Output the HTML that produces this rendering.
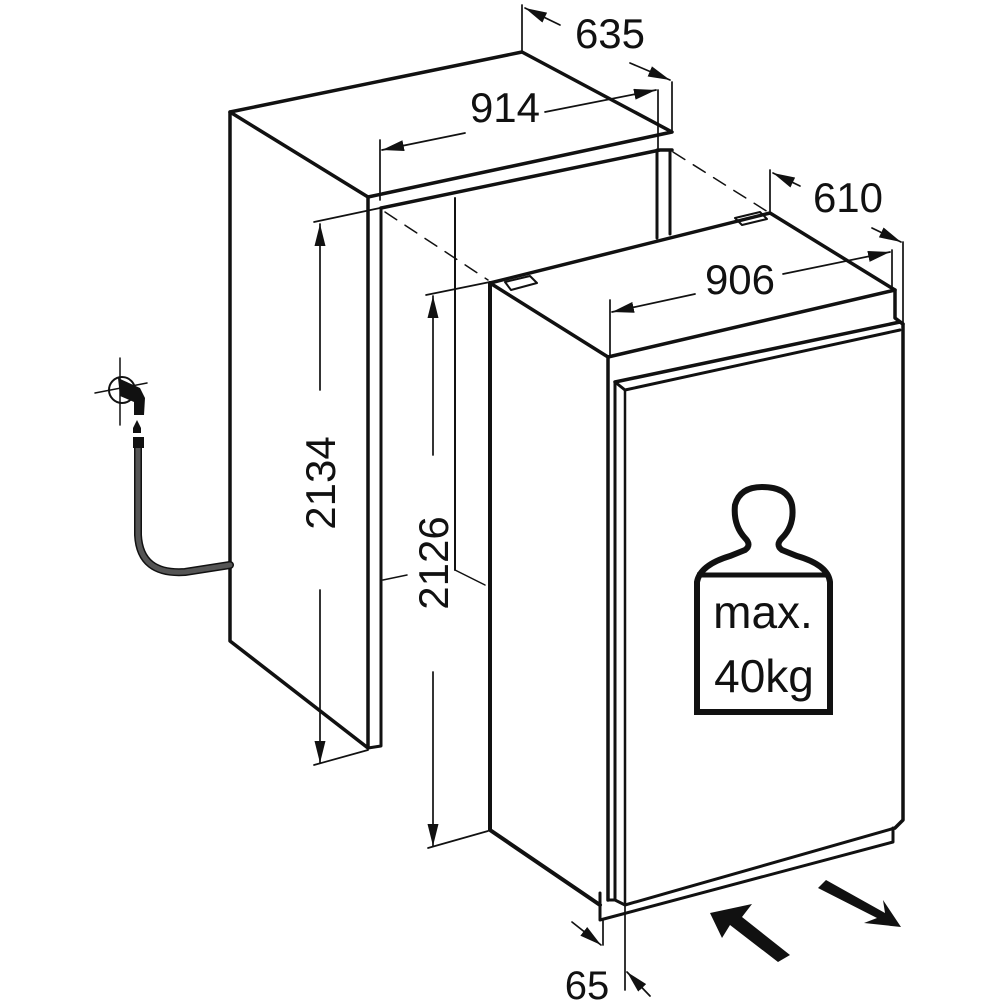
<!DOCTYPE html>
<html><head><meta charset="utf-8"><style>
html,body{margin:0;padding:0;background:#fff;}
svg{display:block;}
text{font-family:"Liberation Sans","DejaVu Sans",sans-serif;fill:#111;}
</style></head><body>
<svg width="1000" height="1000" viewBox="0 0 1000 1000" xmlns="http://www.w3.org/2000/svg">
<defs>
<marker id="ah" viewBox="0 0 20 10" refX="20" refY="5" markerWidth="22" markerHeight="11" markerUnits="userSpaceOnUse" orient="auto">
<path d="M0,0 L20,5 L0,10 Z" fill="#111"/>
</marker>
</defs>
<g stroke="#111" fill="none" stroke-linecap="round" stroke-linejoin="round">
<path d="M230,112 L522,52 L672,132 L368,197 Z" stroke-width="3.5"/>
<path d="M368,197 L368,748 L230,641 L230,112" stroke-width="3.5"/>
<path d="M381,208 L381,746 L368,748" stroke-width="3"/>
<path d="M381,208 L660,150 L672,150" stroke-width="3.5"/>
<line x1="657" y1="150" x2="657" y2="238" stroke-width="3"/>
<line x1="670" y1="150" x2="670" y2="234" stroke-width="3"/>
<line x1="455" y1="198" x2="455" y2="570" stroke-width="2"/>
<line x1="455" y1="570" x2="485" y2="585" stroke-width="1.5"/>
<line x1="383" y1="580" x2="407" y2="575" stroke-width="1.5"/>
<line x1="385" y1="212" x2="488" y2="280" stroke-width="1.5" stroke-dasharray="14,10"/>
<line x1="673" y1="152" x2="768" y2="212" stroke-width="1.5" stroke-dasharray="14,10"/>
<path d="M490,283 L770,213 L895,290 L608,357 Z" stroke-width="3.5"/>
<path d="M490,283 L490,830 L600,905" stroke-width="4"/>
<line x1="608" y1="357" x2="608" y2="900" stroke-width="3.5"/>
<path d="M895,290 L895,318 L903,324 L903,820 L895,828" stroke-width="3.5"/>
<path d="M615,382 L900,322 L903,324" stroke-width="3.5"/>
<path d="M615,382 L625,390 L900,330" stroke-width="3"/>
<line x1="615" y1="382" x2="615" y2="900" stroke-width="3"/>
<line x1="625" y1="390" x2="625" y2="905" stroke-width="2.5"/>
<path d="M608,900 L615,900 L625,905 L895,828" stroke-width="3"/>
<path d="M600,893 L600,920 L893,842 L893,828" stroke-width="3"/>
<path d="M505,282 L530,276 L537,283 L511,290 Z" stroke-width="2"/>
<path d="M735,218 L760,212 L767,219 L742,225 Z" stroke-width="2"/>
<g stroke-width="1.7">
<line x1="522" y1="5" x2="522" y2="52"/>
<line x1="672" y1="82" x2="672" y2="132"/>
<line x1="560" y1="25" x2="525" y2="8" marker-end="url(#ah)"/>
<line x1="630" y1="63" x2="670" y2="80" marker-end="url(#ah)"/>
<line x1="380" y1="140" x2="380" y2="200"/>
<line x1="658" y1="90" x2="658" y2="150"/>
<line x1="465" y1="133" x2="382" y2="150" marker-end="url(#ah)"/>
<line x1="545" y1="112" x2="656" y2="90" marker-end="url(#ah)"/>
<line x1="770" y1="170" x2="770" y2="213"/>
<line x1="903" y1="242" x2="903" y2="324"/>
<line x1="800" y1="186" x2="773" y2="173" marker-end="url(#ah)"/>
<line x1="872" y1="228" x2="901" y2="242" marker-end="url(#ah)"/>
<line x1="610" y1="300" x2="610" y2="357"/>
<line x1="892" y1="250" x2="892" y2="290"/>
<line x1="695" y1="294" x2="612" y2="312" marker-end="url(#ah)"/>
<line x1="783" y1="274" x2="890" y2="252" marker-end="url(#ah)"/>
<line x1="314" y1="222" x2="380" y2="208"/>
<line x1="314" y1="765" x2="368" y2="750"/>
<line x1="320" y1="390" x2="320" y2="224" marker-end="url(#ah)"/>
<line x1="320" y1="590" x2="320" y2="763" marker-end="url(#ah)"/>
<line x1="426" y1="295" x2="490" y2="282"/>
<line x1="428" y1="848" x2="488" y2="831"/>
<line x1="433" y1="455" x2="433" y2="296" marker-end="url(#ah)"/>
<line x1="433" y1="672" x2="433" y2="846" marker-end="url(#ah)"/>
<line x1="603" y1="920" x2="603" y2="945"/>
<line x1="625" y1="905" x2="625" y2="990"/>
<line x1="572" y1="922" x2="601" y2="945" marker-end="url(#ah)"/>
<line x1="650" y1="996" x2="627" y2="972" marker-end="url(#ah)"/>
</g>
<path d="M138,445 L138,535 Q140,575 185,572 L230,565" stroke="#111" stroke-width="8"/>
<path d="M138,445 L138,535 Q140,575 185,572 L230,565" stroke="#555" stroke-width="5"/>
<circle cx="122" cy="390" r="13" stroke-width="2"/>
<line x1="120" y1="358" x2="120" y2="425" stroke-width="1.5"/>
<line x1="95" y1="393" x2="147" y2="383" stroke-width="1.5"/>
</g>
<path d="M118,378 L140,388 L145,398 L144,415 L134,415 L134,402 L120,396 Z" fill="#111"/>
<path d="M137,420 L141,428 L141,433 L133,433 L133,428 Z" fill="#111"/>
<rect x="133" y="437" width="11" height="11" fill="#111"/>
<path d="M710,913 L752,904 L742,917 L790,955 L778,962 L730,925 L722,938 Z" fill="#111"/>
<path d="M818,888 L826,880 L885,913 L883,900 L901,927 L864,923 L877,918 Z" fill="#111"/>
<path d="M697,712 L697,582 Q700,565 730,556 L745,550 Q752,545 745,538 Q733,525 735,505 Q740,487 762,487 Q788,487 792,505 Q795,525 782,538 Q775,545 782,550 L797,556 Q828,565 830,582 L830,712 Z" fill="none" stroke="#111" stroke-width="6"/>
<line x1="697" y1="575" x2="830" y2="575" stroke="#111" stroke-width="5"/>
<text x="763" y="628" font-size="46" text-anchor="middle">max.</text>
<text x="764" y="692" font-size="46" text-anchor="middle">40kg</text>
<text x="610" y="48" font-size="42" text-anchor="middle">635</text>
<text x="505" y="122" font-size="42" text-anchor="middle">914</text>
<text x="848" y="212" font-size="42" text-anchor="middle">610</text>
<text x="740" y="294" font-size="42" text-anchor="middle">906</text>
<text x="587" y="999" font-size="40" text-anchor="middle">65</text>
<text transform="translate(335,483) rotate(-90)" font-size="42" text-anchor="middle">2134</text>
<text transform="translate(448,563) rotate(-90)" font-size="42" text-anchor="middle">2126</text>
</svg>
</body></html>
